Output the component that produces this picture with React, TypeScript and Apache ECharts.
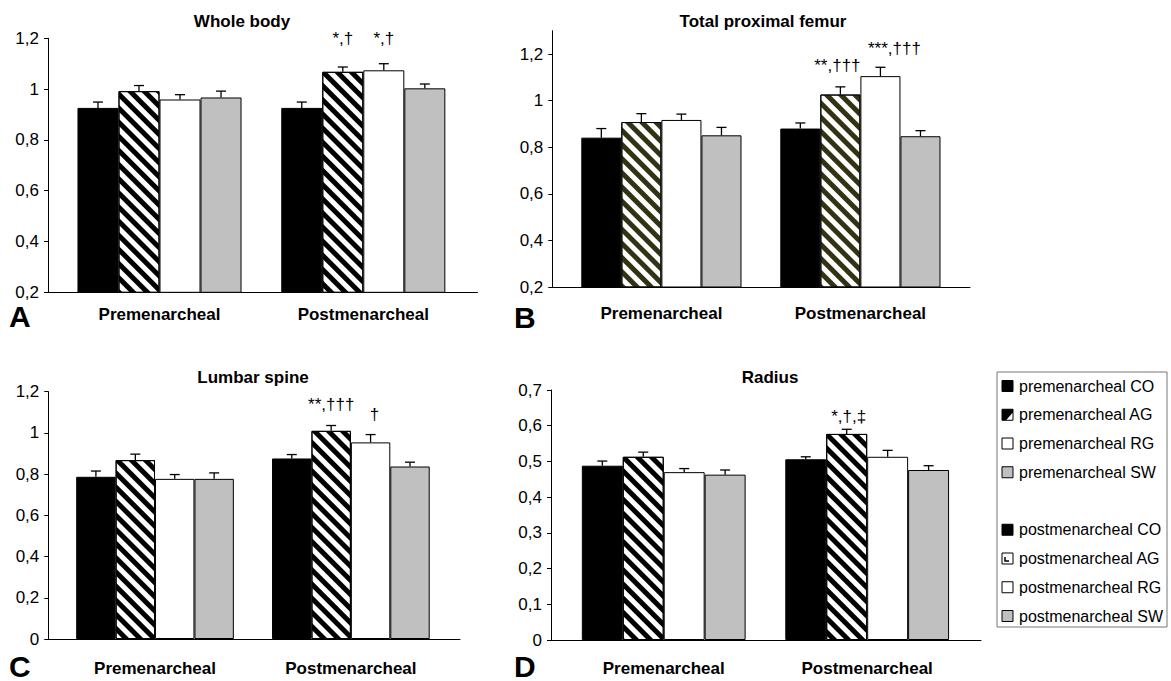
import React, { useEffect, useRef } from 'react';
import * as echarts from 'echarts';

const CATEGORIES = ['Premenarcheal', 'Postmenarcheal'];
const GROUPS = ['CO', 'AG', 'RG', 'SW'];
const LEGEND_LABELS = [
  'premenarcheal CO', 'premenarcheal AG', 'premenarcheal RG', 'premenarcheal SW',
  'postmenarcheal CO', 'postmenarcheal AG', 'postmenarcheal RG', 'postmenarcheal SW',
];

// rows = groups (CO, AG, RG, SW), columns = [pre, post]
const WB_MEAN = [[0.926, 0.926], [0.992, 1.068], [0.959, 1.074], [0.967, 1.003]];
const WB_SE = [[0.023, 0.023], [0.022, 0.019], [0.019, 0.026], [0.025, 0.017]];
const WB_NOTES = [{ g: 1, c: 1, text: '*,†', y: 1.2 }, { g: 2, c: 1, text: '*,†', y: 1.2 }];

const FEMUR_MEAN = [[0.841, 0.880], [0.908, 1.026], [0.917, 1.105], [0.851, 0.847]];
const FEMUR_SE = [[0.039, 0.024], [0.036, 0.033], [0.025, 0.038], [0.034, 0.024]];
const FEMUR_NOTES = [{ g: 1, c: 1, text: '**,†††', y: 1.152 }, { g: 2, c: 1, text: '***,†††', y: 1.222 }];

const SPINE_MEAN = [[0.787, 0.876], [0.868, 1.010], [0.777, 0.954], [0.777, 0.837]];
const SPINE_SE = [[0.028, 0.019], [0.029, 0.026], [0.021, 0.038], [0.029, 0.021]];
const SPINE_NOTES = [{ g: 1, c: 1, text: '**,†††', y: 1.136 }, { g: 2, c: 1, text: '†', y: 1.087 }];

const RADIUS_MEAN = [[0.488, 0.506], [0.513, 0.577], [0.470, 0.513], [0.463, 0.476]];
const RADIUS_SE = [[0.013, 0.007], [0.013, 0.013], [0.010, 0.018], [0.013, 0.012]];
const RADIUS_NOTES = [{ g: 1, c: 1, text: '*,†,‡', y: 0.625 }];

const FONT = '"Liberation Sans", Arial, Helvetica, sans-serif';
const GAP = 0.195;
const GROUP_FILLS = ['#000000', '#ffffff', '#ffffff', '#c0c0c0'];

const PANELS = [
  {
    letter: 'A', title: 'Whole body', mean: WB_MEAN, se: WB_SE, notes: WB_NOTES,
    min: 0.2, max: 1.2, tickMax: 1.2, step: 0.2,
    frame: { left: 48, top: 38.3, width: 429.5, height: 254 }, dataLeft: 57.6, dataWidth: 407.6,
    titleX: 242, titleY: 21, letterX: 9, letterY: 316, catMargin: 14, hatch: '#000000', noteDx: [0, 0],
  },
  {
    letter: 'B', title: 'Total proximal femur', mean: FEMUR_MEAN, se: FEMUR_SE, notes: FEMUR_NOTES,
    min: 0.2, max: 1.3, tickMax: 1.2, step: 0.2,
    frame: { left: 552.3, top: 30.7, width: 417.7, height: 256.3 }, dataLeft: 561.9, dataWidth: 398,
    titleX: 763, titleY: 21, letterX: 514, letterY: 317, catMargin: 17.5, hatch: '#333314', noteDx: [-3, 14],
  },
  {
    letter: 'C', title: 'Lumbar spine', mean: SPINE_MEAN, se: SPINE_SE, notes: SPINE_NOTES,
    min: 0, max: 1.2, tickMax: 1.2, step: 0.2,
    frame: { left: 48.3, top: 391.7, width: 411.7, height: 247.3 }, dataLeft: 57.1, dataWidth: 391.7,
    titleX: 253, titleY: 377, letterX: 9, letterY: 666, catMargin: 20.5, hatch: '#000000', noteDx: [0, 4],
  },
  {
    letter: 'D', title: 'Radius', mean: RADIUS_MEAN, se: RADIUS_SE, notes: RADIUS_NOTES,
    min: 0, max: 0.7, tickMax: 0.7, step: 0.1,
    frame: { left: 551, top: 390, width: 430, height: 250 }, dataLeft: 562, dataWidth: 406.9,
    titleX: 770, titleY: 377, letterX: 514, letterY: 666, catMargin: 19.5, hatch: '#000000', noteDx: [2],
  },
];

function fmt(v: number) {
  const r = Math.round(v * 10) / 10;
  return String(r).replace('.', ',');
}
function tickList(min: number, max: number, step: number) {
  const out: number[] = [];
  for (let i = 0; min + i * step <= max + 1e-9; i++) out.push(Math.round((min + i * step) * 100) / 100);
  return out;
}

function buildOption() {
  const grid: any[] = [];
  const xAxis: any[] = [];
  const yAxis: any[] = [];
  const series: any[] = [];
  const graphic: any[] = [];

  PANELS.forEach((p, pi) => {
    const fi = pi * 2;
    const di = pi * 2 + 1;
    const ticks = tickList(p.min, p.tickMax, p.step);
    grid.push({ ...p.frame, outerBoundsMode: 'none', containLabel: false });
    grid.push({ left: p.dataLeft, width: p.dataWidth, top: p.frame.top, height: p.frame.height, outerBoundsMode: 'none', containLabel: false });

    // frame axes
    xAxis.push({
      gridIndex: fi, type: 'value', min: 0, max: 1,
      axisLine: { show: true, onZero: false, lineStyle: { color: '#000', width: 1 } },
      axisTick: { show: false }, axisLabel: { show: false }, splitLine: { show: false },
    });
    yAxis.push({
      gridIndex: fi, type: 'value', min: p.min, max: p.max,
      axisLine: { show: true, onZero: false, lineStyle: { color: '#000', width: 1 } },
      axisTick: { show: true, length: 4, inside: false, customValues: ticks, lineStyle: { color: '#000' } },
      axisLabel: {
        show: true, customValues: ticks, margin: 9, color: '#000', fontSize: 17, fontFamily: FONT,
        formatter: (v: number) => fmt(v),
      },
      splitLine: { show: false },
    });
    // data axes
    xAxis.push({
      gridIndex: di, type: 'category', data: CATEGORIES,
      axisLine: { show: false }, axisTick: { show: false }, splitLine: { show: false },
      axisLabel: { show: true, margin: p.catMargin, color: '#000', fontSize: 17, fontWeight: 'bold', fontFamily: FONT },
    });
    yAxis.push({ gridIndex: di, type: 'value', min: p.min, max: p.max, show: false, splitLine: { show: false } });

    GROUPS.forEach((g, gi) => {
      const itemStyle: any = { color: GROUP_FILLS[gi], borderColor: '#000', borderWidth: 1 };
      if (gi === 1) {
        itemStyle.decal = {
          symbol: 'rect', symbolSize: 1, color: p.hatch,
          dashArrayX: [10, 0], dashArrayY: [5, 5], rotation: Math.PI / 4,
        };
      }
      series.push({
        type: 'bar', name: `${p.letter} ${g}`, xAxisIndex: di, yAxisIndex: di,
        data: p.mean[gi], barGap: '0%', barCategoryGap: `${GAP * 100}%`,
        itemStyle, emphasis: { disabled: true }, silent: true,
      });
    });

    const errData: number[][] = [];
    GROUPS.forEach((_, gi) => {
      CATEGORIES.forEach((__, ci) => {
        const m = p.mean[gi][ci];
        errData.push([ci, gi, m, Math.round((m + p.se[gi][ci]) * 1000) / 1000]);
      });
    });
    series.push({
      type: 'custom', name: `${p.letter} err`, xAxisIndex: di, yAxisIndex: di, silent: true, z: 5,
      encode: { x: 0, y: 3 },
      data: errData,
      renderItem: (params: any, api: any) => {
        const c = api.value(0), g = api.value(1), m = api.value(2), e = api.value(3);
        const base = api.coord([c, m]);
        const top = api.coord([c, e]);
        const band = api.size([1, 0])[0];
        const bw = (band * (1 - GAP)) / 4;
        const x = base[0] - 2 * bw + (g + 0.5) * bw;
        return {
          type: 'group',
          children: [
            { type: 'line', shape: { x1: x, y1: base[1], x2: x, y2: top[1] }, style: { stroke: '#000', lineWidth: 1.3 } },
            { type: 'line', shape: { x1: x - 5, y1: top[1], x2: x + 5, y2: top[1] }, style: { stroke: '#000', lineWidth: 1.3 } },
          ],
        };
      },
    });

    const notes = p.notes;
    const dxs = p.noteDx;
    series.push({
      type: 'custom', name: `${p.letter} notes`, xAxisIndex: di, yAxisIndex: di, silent: true, z: 6,
      encode: { x: 0, y: 2 },
      data: notes.map((n) => [n.c, n.g, n.y]),
      renderItem: (params: any, api: any) => {
        const c = api.value(0), g = api.value(1), y = api.value(2);
        const pt = api.coord([c, y]);
        const band = api.size([1, 0])[0];
        const bw = (band * (1 - GAP)) / 4;
        const x = pt[0] - 2 * bw + (g + 0.5) * bw + (dxs[params.dataIndex] || 0);
        return {
          type: 'text', x, y: pt[1],
          style: {
            text: notes[params.dataIndex].text, fill: '#000', font: `17px ${FONT}`,
            textAlign: 'center', textVerticalAlign: 'middle',
          },
        };
      },
    });

    graphic.push({
      type: 'text', x: p.titleX, y: p.titleY, silent: true,
      style: { text: p.title, fill: '#000', font: `bold 17px ${FONT}`, textAlign: 'center', textVerticalAlign: 'middle' },
    });
    graphic.push({
      type: 'text', x: p.letterX, y: p.letterY, silent: true,
      style: { text: p.letter, fill: '#000', font: `bold 30px ${FONT}`, textAlign: 'left', textVerticalAlign: 'middle' },
    });
  });

  // legend
  const LX = 997, LY = 372, LW = 170, LH = 255;
  graphic.push({ type: 'rect', silent: true, shape: { x: LX, y: LY, width: LW, height: LH }, style: { fill: '#fff', stroke: '#777', lineWidth: 1 } });
  LEGEND_LABELS.forEach((label, i) => {
    const row = i < 4 ? i : i + 1;
    const cy = 386 + row * 28.75;
    const gi = i % 4;
    const ix = 1002, iy = cy - 5.5, s = 11;
    graphic.push({
      type: 'rect', silent: true, shape: { x: ix, y: iy, width: s, height: s },
      style: { fill: GROUP_FILLS[gi], stroke: '#000', lineWidth: 1 },
    });
    if (gi === 1 && i < 4) {
      graphic.push({
        type: 'polygon', silent: true,
        shape: { points: [[ix, iy], [ix + s, iy], [ix + s, iy + 3], [ix + 4, iy + s], [ix, iy + s]] },
        style: { fill: '#000' },
      });
    } else if (gi === 1) {
      graphic.push({
        type: 'polyline', silent: true,
        shape: { points: [[ix + 3, iy + 4], [ix + 3, iy + 8], [ix + 7, iy + 8]] },
        style: { stroke: '#000', lineWidth: 1.5, fill: 'none' },
      });
    }
    graphic.push({
      type: 'text', x: 1019, y: cy, silent: true,
      style: { text: label, fill: '#000', font: `16px ${FONT}`, textAlign: 'left', textVerticalAlign: 'middle' },
    });
  });

  return {
    animation: false,
    backgroundColor: '#ffffff',
    textStyle: { fontFamily: FONT },
    grid, xAxis, yAxis, series, graphic,
  };
}

export default function App() {
  const ref = useRef<HTMLDivElement>(null);
  useEffect(() => {
    if (!ref.current) return;
    const chart = echarts.init(ref.current, null, { renderer: 'svg' });
    chart.setOption(buildOption() as any);
    return () => chart.dispose();
  }, []);
  return (
    <div
      ref={ref}
      style={{ position: 'fixed', left: 0, top: 0, width: 1171, height: 681, background: '#fff' }}
    />
  );
}
